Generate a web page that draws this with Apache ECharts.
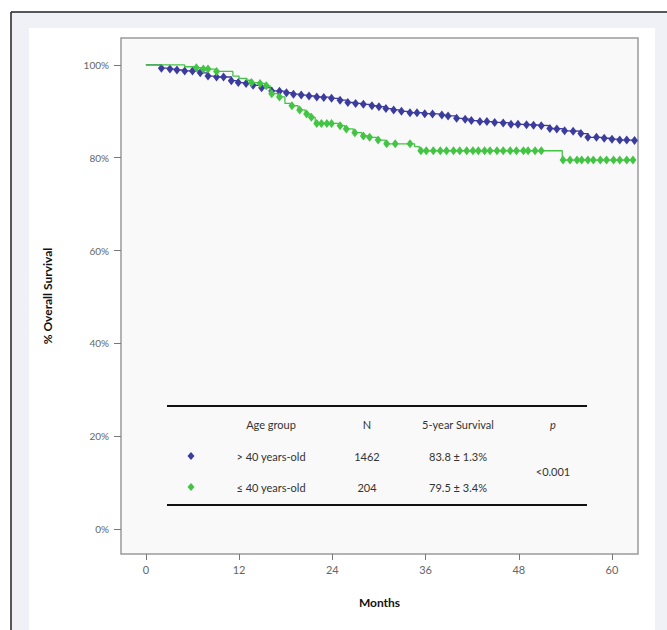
<!DOCTYPE html>
<html><head><meta charset="utf-8">
<script src="https://cdn.jsdelivr.net/npm/echarts@6/dist/echarts.min.js"></script>
<style>html,body{margin:0;padding:0;background:#fff}#c{width:667px;height:630px}</style>
</head><body><div id="c"></div>
<script>
// ---------- data ----------
const xTicks = [0, 12, 24, 36, 48, 60];
const yTicks = [0, 20, 40, 60, 80, 100];
const xAxisTitle = 'Months';
const yAxisTitle = '% Overall Survival';

const tableHeaders = ['Age group', 'N', '5-year Survival', 'p'];
const groupNames = ['> 40 years-old', '≤ 40 years-old'];
const groupN = ['1462', '204'];
const groupSurv5 = ['83.8 ± 1.3%', '79.5 ± 3.4%'];
const pValue = '<0.001';

// > 40 years-old : censoring marks (months, % survival)
const olderCensorTimes = [2.0,3.1,4.0,5.0,6.0,7.0,8.0,9.1,10.0,11.0,11.9,12.9,13.8,14.9,16.2,17.2,18.1,19.0,20.0,21.0,22.0,22.9,23.9,25.0,26.0,27.0,28.0,29.1,30.0,30.9,31.9,32.9,34.0,34.9,35.9,36.9,38.1,38.9,40.0,41.1,41.9,43.0,43.9,44.9,46.0,47.0,47.9,49.0,49.9,50.9,52.0,52.9,53.9,55.0,56.0,56.9,58.0,59.0,60.0,61.0,61.9,62.9];
const olderCensorSurv  = [99.3,99.1,98.9,98.7,98.7,98.3,97.6,97.4,97.4,96.6,96.2,96.0,95.6,95.1,94.4,94.3,94.0,93.7,93.5,93.3,93.1,93.0,92.8,92.4,91.9,91.7,91.5,91.2,91.0,90.6,90.3,90.0,89.7,89.7,89.5,89.4,89.2,89.0,88.5,88.3,88.0,87.8,87.8,87.6,87.5,87.2,87.2,87.1,87.0,86.9,86.3,86.2,85.8,85.7,85.2,84.4,84.4,84.2,84.0,83.8,83.8,83.7];
// > 40 years-old : survival curve steps
const olderStepTimes = [0].concat(olderCensorTimes);
const olderStepSurv  = [100].concat(olderCensorSurv);

// <= 40 years-old : survival curve steps
const youngerStepTimes = [0,5.0,6.3,7.2,9.0,11.2,12.0,13.0,13.5,14.6,15.3,16.0,17.0,17.9,18.6,19.6,20.5,21.2,21.8,24.8,25.6,26.7,27.8,28.6,29.7,30.8,34.6,35.2,53.6,62.7];
const youngerStepSurv  = [100,99.6,99.4,99.1,98.6,97.6,97.1,96.7,96.2,96.0,95.5,93.8,93.1,91.7,91.2,90.3,89.4,88.7,87.4,86.9,86.2,85.4,84.7,84.4,83.8,83.0,82.4,81.5,79.5,79.5];
// <= 40 years-old : censoring marks
const youngerCensorTimes = [6.5,7.4,8.0,9.1,13.6,14.7,15.5,16.2,17.2,18.8,19.8,20.7,21.3,22.0,22.6,23.3,23.9,25.0,25.8,26.9,28.0,28.8,29.9,31.0,32.1,34.0,35.4,36.1,37.0,37.9,38.7,39.6,40.4,41.3,42.1,42.8,43.6,44.3,45.2,46.0,46.9,47.7,48.6,49.2,50.1,50.9,53.7,54.6,55.5,56.1,56.9,57.6,58.5,59.3,60.2,61.0,61.9,62.7];
const youngerCensorSurv  = [99.4,99.1,99.1,98.6,96.2,96.0,95.5,93.8,93.1,91.2,90.3,89.4,88.7,87.4,87.4,87.4,87.4,86.9,86.2,85.4,84.7,84.4,83.8,83.0,83.0,83.0,81.5,81.5,81.5,81.5,81.5,81.5,81.5,81.5,81.5,81.5,81.5,81.5,81.5,81.5,81.5,81.5,81.5,81.5,81.5,81.5,79.5,79.5,79.5,79.5,79.5,79.5,79.5,79.5,79.5,79.5,79.5,79.5];

// ---------- styling ----------
const BLUE = '#3c3c9e';
const GREEN = '#44c444';
const FONT = 'Lato, "Open Sans", sans-serif';

function pairs(xs, ys) { return xs.map((x, i) => [x, ys[i]]); }

const chart = echarts.init(document.getElementById('c'), null, { renderer: 'svg' });

// table layout
const tbl = { x0: 167, x1: 587, top: 406, bottom: 505, head: 424, rows: [456, 487], cols: [271, 367, 458, 553], key: 191 };
const txt = (text, x, y, extra) => ({
  type: 'text', x: x, y: y, z: 100,
  style: Object.assign({ text: text, align: 'center', verticalAlign: 'middle', font: '11px ' + FONT, fill: '#333' }, extra || {})
});
const diamond = (cx, cy, color) => ({
  type: 'polygon', z: 100,
  shape: { points: [[cx, cy - 4], [cx + 3.5, cy], [cx, cy + 4], [cx - 3.5, cy]] },
  style: { fill: color }
});

const graphics = [
  { type: 'rect', z: -100, shape: { x: 11, y: 12, width: 656, height: 618 }, style: { fill: '#f0f1f6' } },
  { type: 'line', z: -90, shape: { x1: 11, y1: 12, x2: 667, y2: 12 }, style: { stroke: '#222', lineWidth: 1.5 } },
  { type: 'line', z: -90, shape: { x1: 11, y1: 12, x2: 11, y2: 630 }, style: { stroke: '#222', lineWidth: 1.5 } },
  { type: 'rect', z: -80, shape: { x: 29, y: 28, width: 626, height: 602 }, style: { fill: '#ffffff' } },
  { type: 'line', z: 100, shape: { x1: tbl.x0, y1: tbl.top, x2: tbl.x1, y2: tbl.top }, style: { stroke: '#111', lineWidth: 2 } },
  { type: 'line', z: 100, shape: { x1: tbl.x0, y1: tbl.bottom, x2: tbl.x1, y2: tbl.bottom }, style: { stroke: '#111', lineWidth: 2 } }
];
tableHeaders.forEach((h, i) => {
  graphics.push(txt(h, tbl.cols[i], tbl.head, i === 3 ? { font: 'italic 11px ' + FONT } : null));
});
[BLUE, GREEN].forEach((c, r) => {
  const y = tbl.rows[r];
  graphics.push(diamond(tbl.key, y, c));
  graphics.push(txt(groupNames[r], tbl.cols[0], y));
  graphics.push(txt(groupN[r], tbl.cols[1], y));
  graphics.push(txt(groupSurv5[r], tbl.cols[2], y));
});
graphics.push(txt(pValue, tbl.cols[3], (tbl.rows[0] + tbl.rows[1]) / 2));

const option = {
  animation: false,
  backgroundColor: '#ffffff',
  textStyle: { fontFamily: FONT },
  graphic: graphics,
  grid: {
    left: 121, top: 38, right: 29, bottom: 76,
    show: true, backgroundColor: '#f9f9f9', borderColor: '#9a9a9a', borderWidth: 1.5,
    containLabel: false
  },
  xAxis: {
    type: 'value', min: -3.2, max: 63.35,
    name: xAxisTitle, nameLocation: 'middle', nameGap: 42,
    nameTextStyle: { fontFamily: FONT, fontWeight: 'bold', fontSize: 12, color: '#111' },
    axisLine: { show: false, onZero: false },
    splitLine: { show: false },
    axisTick: { show: true, inside: false, length: 6, customValues: xTicks, lineStyle: { color: '#777' } },
    axisLabel: { customValues: xTicks, margin: 10, color: '#666', fontSize: 11, fontFamily: FONT }
  },
  yAxis: {
    type: 'value', min: -5.4, max: 105.8,
    name: yAxisTitle, nameLocation: 'middle', nameGap: 68, nameRotate: 90,
    nameTextStyle: { fontFamily: FONT, fontWeight: 'bold', fontSize: 12, color: '#111' },
    axisLine: { show: false, onZero: false },
    splitLine: { show: false },
    axisTick: { show: true, inside: false, length: 7, customValues: yTicks, lineStyle: { color: '#777' } },
    axisLabel: { customValues: yTicks, margin: 12, color: '#666', fontSize: 10, fontFamily: FONT, formatter: v => v + '%' }
  },
  series: [
    { name: groupNames[0] + ' curve', type: 'line', step: 'end', showSymbol: false, symbol: 'none',
      data: pairs(olderStepTimes, olderStepSurv), lineStyle: { color: BLUE, width: 1.3 }, z: 2 },
    { name: groupNames[0], type: 'scatter', symbol: 'diamond', symbolSize: [7, 9],
      data: pairs(olderCensorTimes, olderCensorSurv), itemStyle: { color: BLUE, opacity: 1 }, z: 3 },
    { name: groupNames[1] + ' curve', type: 'line', step: 'end', showSymbol: false, symbol: 'none',
      data: pairs(youngerStepTimes, youngerStepSurv), lineStyle: { color: GREEN, width: 1.3 }, z: 4 },
    { name: groupNames[1], type: 'scatter', symbol: 'diamond', symbolSize: [7, 9],
      data: pairs(youngerCensorTimes, youngerCensorSurv), itemStyle: { color: GREEN, opacity: 1 }, z: 5 }
  ]
};
chart.setOption(option);
</script>
</body></html>
